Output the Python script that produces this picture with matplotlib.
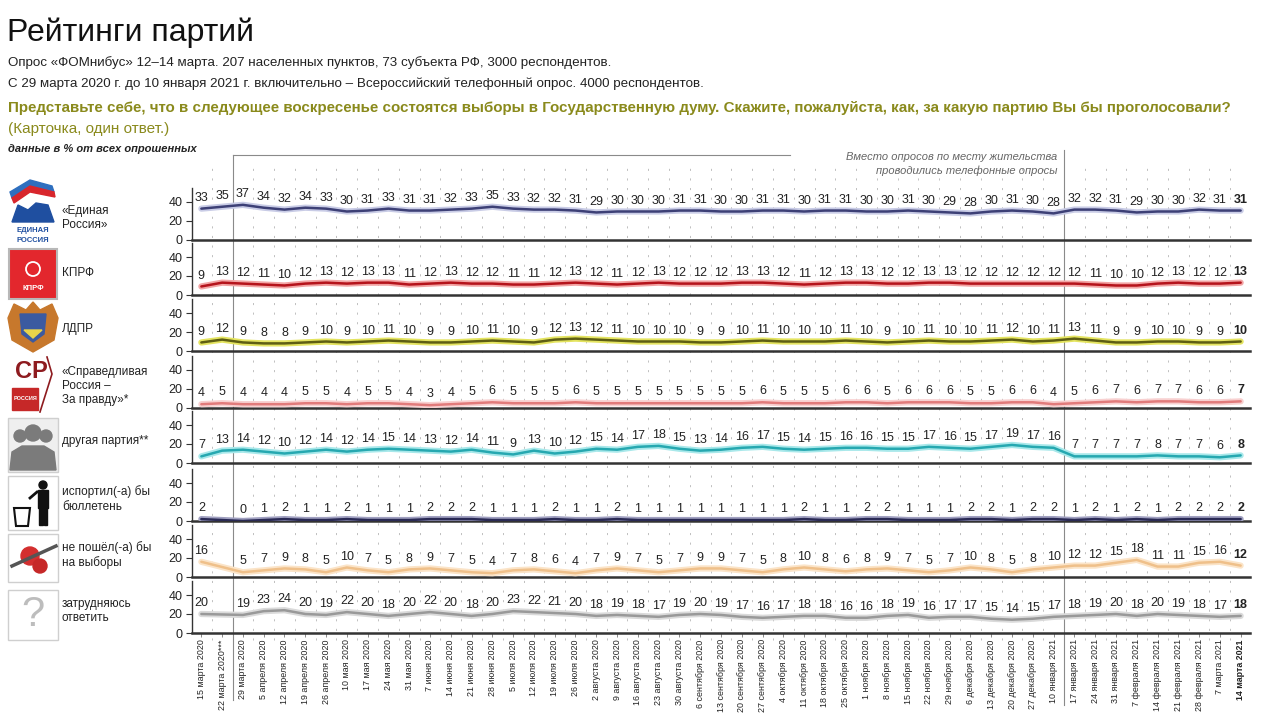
import numpy as np
import matplotlib
matplotlib.use("Agg")
import matplotlib.pyplot as plt
import matplotlib.patheffects as pe
from matplotlib import font_manager
from matplotlib.patches import Rectangle, Polygon, Circle

# pick a condensed font if there is one
FONT = "Liberation Sans"
try:
    font_manager.findfont(font_manager.FontProperties(family="Liberation Sans Narrow"),
                          fallback_to_default=False)
    FONT = "Liberation Sans Narrow"
except Exception:
    pass
plt.rcParams["font.family"] = [FONT, "DejaVu Sans"]

nan = np.nan

dates = ["15 марта 2020", "22 марта 2020***", "29 марта 2020", "5 апреля 2020",
         "12 апреля 2020", "19 апреля 2020", "26 апреля 2020", "10 мая 2020",
         "17 мая 2020", "24 мая 2020", "31 мая 2020", "7 июня 2020", "14 июня 2020",
         "21 июня 2020", "28 июня 2020", "5 июля 2020", "12 июля 2020", "19 июля 2020",
         "26 июля 2020", "2 августа 2020", "9 августа 2020", "16 августа 2020",
         "23 августа 2020", "30 августа 2020", "6 сентября 2020", "13 сентября 2020",
         "20 сентября 2020", "27 сентября 2020", "4 октября 2020", "11 октября 2020",
         "18 октября 2020", "25 октября 2020", "1 ноября 2020", "8 ноября 2020",
         "15 ноября 2020", "22 ноября 2020", "29 ноября 2020", "6 декабря 2020",
         "13 декабря 2020", "20 декабря 2020", "27 декабря 2020", "10 января 2021",
         "17 января 2021", "24 января 2021", "31 января 2021", "7 февраля 2021",
         "14 февраля 2021", "21 февраля 2021", "28 февраля 2021", "7 марта 2021",
         "14 марта 2021"]

er = [33, 35, 37, 34, 32, 34, 33, 30, 31, 33, 31, 31, 32, 33, 35, 33,
      32, 32, 31, 29, 30, 30, 30, 31, 31, 30, 30, 31, 31, 30, 31, 31, 30, 30,
      31, 30, 29, 28, 30, 31, 30, 28,
      32, 32, 31, 29, 30, 30, 32, 31, 31]
kprf = [9, 13, 12, 11, 10, 12, 13, 12, 13, 13, 11, 12, 13, 12, 12, 11,
        11, 12, 13, 12, 11, 12, 13, 12, 12, 12, 13, 13, 12, 11, 12, 13, 13, 12,
        12, 13, 13, 12, 12, 12, 12, 12,
        12, 11, 10, 10, 12, 13, 12, 12, 13]
ldpr = [9, 12, 9, 8, 8, 9, 10, 9, 10, 11, 10, 9, 9, 10, 11, 10,
        9, 12, 13, 12, 11, 10, 10, 10, 9, 9, 10, 11, 10, 10, 10, 11, 10, 9,
        10, 11, 10, 10, 11, 12, 10, 11,
        13, 11, 9, 9, 10, 10, 9, 9, 10]
sr = [4, 5, 4, 4, 4, 5, 5, 4, 5, 5, 4, 3, 4, 5, 6, 5,
      5, 5, 6, 5, 5, 5, 5, 5, 5, 5, 5, 6, 5, 5, 5, 6, 6, 5,
      6, 6, 6, 5, 5, 6, 6, 4,
      5, 6, 7, 6, 7, 7, 6, 6, 7]
other = [7, 13, 14, 12, 10, 12, 14, 12, 14, 15, 14, 13, 12, 14, 11, 9,
         13, 10, 12, 15, 14, 17, 18, 15, 13, 14, 16, 17, 15, 14, 15, 16, 16, 15,
         15, 17, 16, 15, 17, 19, 17, 16,
         7, 7, 7, 7, 8, 7, 7, 6, 8]
spoil = [2, nan, 0, 1, 2, 1, 1, 2, 1, 1, 1, 2, 2, 2, 1, 1,
         1, 2, 1, 1, 2, 1, 1, 1, 1, 1, 1, 1, 1, 2, 1, 1, 2, 2,
         1, 1, 1, 2, 2, 1, 2, 2,
         1, 2, 1, 2, 1, 2, 2, 2, 2]
novote = [16, nan, 5, 7, 9, 8, 5, 10, 7, 5, 8, 9, 7, 5, 4, 7,
          8, 6, 4, 7, 9, 7, 5, 7, 9, 9, 7, 5, 8, 10, 8, 6, 8, 9,
          7, 5, 7, 10, 8, 5, 8, 10,
          12, 12, 15, 18, 11, 11, 15, 16, 12]
hard = [20, nan, 19, 23, 24, 20, 19, 22, 20, 18, 20, 22, 20, 18, 20, 23,
        22, 21, 20, 18, 19, 18, 17, 19, 20, 19, 17, 16, 17, 18, 18, 16, 16, 18,
        19, 16, 17, 17, 15, 14, 15, 17,
        18, 19, 20, 18, 20, 19, 18, 17, 18]

row_labels = ["«Единая\nРоссия»", "КПРФ", "ЛДПР", "«Справедливая\nРоссия –\nЗа правду»*",
              "другая партия**", "испортил(-а) бы\nбюллетень", "не пошёл(-а) бы\nна выборы",
              "затрудняюсь\nответить"]
series = [er, kprf, ldpr, sr, other, spoil, novote, hard]
colors = ["#3d4076", "#b5141c", "#5e5e14", "#e17b7b", "#26a8b0", "#2a2a55", "#efc08a", "#999999"]
glows = ["#c9cce6", "#f2a4a4", "#e4e460", "#f8d0d0", "#a8e8ea", "#a0a0c0", "#fbe4c8", "#dadada"]

W, H = 1280, 715
fig = plt.figure(figsize=(W / 100, H / 100), dpi=100)


def fx(x):
    return x / W


def fy(y):
    return 1 - y / H


x = np.arange(len(dates))
XMIN, XMAX = -0.45, 50.45
AX_L, AX_R = 192, 1250

# header
fig.text(fx(7), fy(41), "Рейтинги партий", fontsize=23, color="#111111", va="baseline")
fig.text(fx(8), fy(66), "Опрос «ФОМнибус» 12–14 марта. 207 населенных пунктов, 73 субъекта РФ, "
         "3000 респондентов.", fontsize=9.6, color="#222222", va="baseline")
fig.text(fx(8), fy(87), "С 29 марта 2020 г. до 10 января 2021 г. включительно – Всероссийский "
         "телефонный опрос. 4000 респондентов.", fontsize=9.6, color="#222222", va="baseline")
fig.text(fx(8), fy(112), "Представьте себе, что в следующее воскресенье состоятся выборы в "
         "Государственную думу. Скажите, пожалуйста, как, за какую партию Вы бы проголосовали?",
         fontsize=10.9, color="#8a8a1c", fontweight="bold", va="baseline")
fig.text(fx(8), fy(133), "(Карточка, один ответ.)", fontsize=11, color="#8a8a1c", va="baseline")
fig.text(fx(8), fy(152), "данные в % от всех опрошенных", fontsize=8, color="#222222",
         style="italic", fontweight="bold", va="baseline")

# background overlay: column grid, period separators, note
OV_T, OV_B = 148, 712
ov = fig.add_axes([fx(AX_L), fy(OV_B), fx(AX_R - AX_L), (OV_B - OV_T) / H])
ov.set_xlim(XMIN, XMAX)
ov.set_ylim(0, 1)
ov.axis("off")


def oy(y):
    return (OV_B - y) / (OV_B - OV_T)


for g in np.arange(0.5, len(dates), 1.0):
    ov.plot([g, g], [oy(640), oy(168)], color="#b5b5b5", lw=0.6,
            linestyle=(0, (2.5, 9)), zorder=0)
ov.plot([1.5, 1.5], [oy(700), oy(155)], color="#8a8a8a", lw=0.8)
ov.plot([1.5, 28.3], [oy(155), oy(155)], color="#8a8a8a", lw=0.8)
ov.plot([41.5, 41.5], [oy(705), oy(150)], color="#8a8a8a", lw=0.8)
ov.text(41.2, oy(157), "Вместо опросов по месту жительства", ha="right", va="center",
        fontsize=8, style="italic", color="#666666")
ov.text(41.2, oy(171), "проводились телефонные опросы", ha="right", va="center",
        fontsize=8, style="italic", color="#666666")

# rows
zero_y = [240, 295, 351, 408, 463, 521, 577, 633]
AX_H = 52
for i, (vals, c, gl) in enumerate(zip(series, colors, glows)):
    ax = fig.add_axes([fx(AX_L), fy(zero_y[i]), fx(AX_R - AX_L), AX_H / H])
    ax.set_facecolor("none")
    ax.set_xlim(XMIN, XMAX)
    ax.set_ylim(0, AX_H / 0.95)
    v = np.array(vals, dtype=float)
    ok = ~np.isnan(v)
    ax.plot(x[ok], v[ok], color=c, lw=1.8, solid_capstyle="round", zorder=3,
            path_effects=[pe.Stroke(linewidth=4.5, foreground=gl), pe.Normal()])
    for xi, vi in zip(x[ok], v[ok]):
        last = xi == len(dates) - 1
        ax.annotate(f"{int(vi)}", (xi, vi), xytext=(0, 3.5), textcoords="offset points",
                    ha="center", va="bottom", fontsize=9, color="#222222",
                    fontweight="bold" if last else "normal", zorder=4)
    for s in ["top", "right"]:
        ax.spines[s].set_visible(False)
    ax.spines["left"].set_color("#333333")
    ax.spines["left"].set_linewidth(1.0)
    ax.spines["bottom"].set_color("#333333")
    ax.spines["bottom"].set_linewidth(1.8)
    ax.set_yticks([0, 20, 40])
    ax.tick_params(axis="y", length=4, width=0.8, color="#333333", labelsize=9,
                   labelcolor="#222222", pad=3)
    if i == len(series) - 1:
        ax.set_xticks(x)
        ax.set_xticklabels(dates, rotation=90, fontsize=6.4, color="#222222")
        ax.get_xticklabels()[-1].set_fontweight("bold")
        ax.tick_params(axis="x", length=3, width=0.6, color="#777777", pad=1.5)
    else:
        ax.set_xticks([])
    fig.text(fx(62), fy(zero_y[i] - 22), row_labels[i], fontsize=8.5, color="#222222",
             va="center", ha="left", linespacing=1.25)

# icons
ic = fig.add_axes([0, fy(648), fx(62), (648 - 170) / H])
ic.set_xlim(0, 62)
ic.set_ylim(648, 170)
ic.axis("off")
# Единая Россия
ic.add_patch(Polygon([[10, 192], [30, 180], [52, 186], [54, 192], [30, 186], [12, 198]],
                     color="#2e6fbf"))
ic.add_patch(Polygon([[12, 198], [30, 186], [54, 192], [55, 197], [30, 192], [14, 203]],
                     color="#d8262c"))
ic.add_patch(Polygon([[12, 222], [18, 205], [28, 210], [36, 203], [48, 205], [54, 222]],
                     color="#1f4fa0"))
ic.text(33, 231, "ЕДИНАЯ", ha="center", va="center", fontsize=5.5, fontweight="bold",
        color="#1f4fa0")
ic.text(33, 240, "РОССИЯ", ha="center", va="center", fontsize=5.5, fontweight="bold",
        color="#1f4fa0")
# КПРФ
ic.add_patch(Rectangle((9, 249), 48, 50, facecolor="#e3272d", edgecolor="#b8b8b8", lw=1.5))
ic.add_patch(Circle((33, 269), 7, facecolor="none", edgecolor="white", lw=1.3))
ic.text(33, 289, "КПРФ", ha="center", va="center", fontsize=5.5, fontweight="bold",
        color="white")
# ЛДПР
ic.add_patch(Polygon([[8, 318], [14, 304], [26, 310], [33, 302], [40, 310], [52, 304],
                      [58, 318], [54, 340], [33, 352], [12, 340]], color="#c7782c"))
ic.add_patch(Polygon([[20, 314], [46, 314], [44, 334], [33, 342], [22, 334]], color="#3b5aa0"))
ic.add_patch(Polygon([[24, 330], [42, 330], [33, 338]], color="#e8d44a"))
# Справедливая Россия
ic.text(31, 372, "СР", ha="center", va="center", fontsize=17, fontweight="bold",
        color="#8e1b1f")
ic.plot([47, 52, 40], [357, 374, 412], color="#8e1b1f", lw=1.2)
ic.add_patch(Rectangle((12, 388), 26, 22, color="#c62828"))
ic.text(25, 399, "РОССИЯ", ha="center", va="center", fontsize=4, fontweight="bold",
        color="white")
# другая партия
ic.add_patch(Rectangle((8, 418), 50, 54, facecolor="#efefef", edgecolor="#cfcfcf", lw=1))
for cx, cy, r in [(20, 436, 6), (46, 436, 6), (33, 433, 8)]:
    ic.add_patch(Circle((cx, cy), r, color="#7b7b7b"))
ic.add_patch(Polygon([[10, 470], [12, 452], [22, 446], [44, 446], [54, 452], [56, 470]],
                     color="#7b7b7b"))
# испортил бюллетень
ic.add_patch(Rectangle((8, 476), 50, 54, facecolor="white", edgecolor="#cfcfcf", lw=1))
ic.add_patch(Circle((43, 485), 4, color="#111111"))
ic.add_patch(Rectangle((38, 490), 10, 18, color="#111111"))
ic.add_patch(Rectangle((39, 507), 3.5, 18, color="#111111"))
ic.add_patch(Rectangle((43.5, 507), 3.5, 18, color="#111111"))
ic.plot([30, 37], [498, 492], color="#111111", lw=2)
ic.add_patch(Polygon([[14, 508], [30, 508], [28, 526], [16, 526]], facecolor="none",
                     edgecolor="#111111", lw=1.5))
# не пошёл на выборы
ic.add_patch(Rectangle((8, 534), 50, 48, facecolor="white", edgecolor="#cfcfcf", lw=1))
ic.add_patch(Circle((30, 556), 9, color="#d32f2f"))
ic.add_patch(Circle((40, 566), 7, color="#c62828"))
ic.plot([12, 56], [566, 546], color="#555555", lw=2.5)
# затрудняюсь ответить
ic.add_patch(Rectangle((8, 590), 50, 50, facecolor="white", edgecolor="#cfcfcf", lw=1))
ic.text(33, 615, "?", ha="center", va="center", fontsize=30, color="#bdbdbd")

fig.savefig("out.png", dpi=100)
